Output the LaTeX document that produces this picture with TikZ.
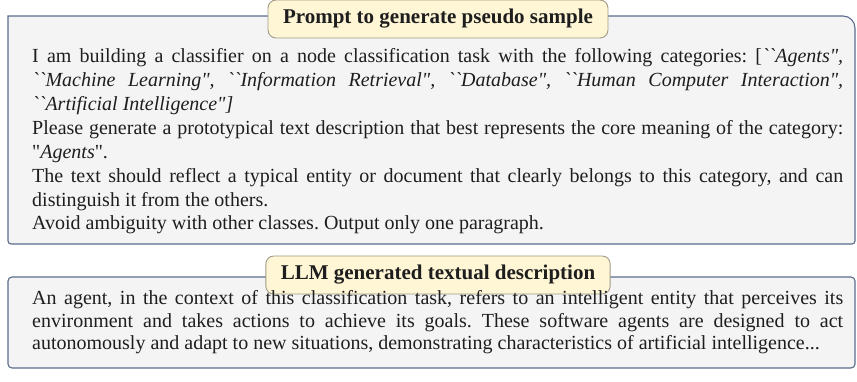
\documentclass[tikz,border=0pt]{standalone}
\usepackage{fontspec}
\setmainfont{Liberation Serif}[Ligatures=TeXOff]
\definecolor{framecol}{HTML}{5A6C8C}
\definecolor{bodyfill}{HTML}{F4F4F4}
\definecolor{titlefill}{HTML}{FFF6D6}
\definecolor{titledraw}{HTML}{A09A86}
\definecolor{inkcol}{HTML}{1E1E1E}

\begin{document}
\begin{tikzpicture}[x=1pt,y=-1pt,
  every node/.style={font=\fontsize{20}{23.85}\selectfont\frenchspacing,text=inkcol},
  boxframe/.style={draw=framecol,line width=1.1pt,fill=bodyfill},
  titlebox/.style={draw=titledraw,line width=0.9pt,fill=titlefill,rounded corners=8pt,
    minimum height=38pt,inner xsep=15pt,font=\fontsize{21}{24}\selectfont\bfseries},
  bodytext/.style={anchor=base west,text width=811pt,align=justify,inner sep=0pt}]
  \useasboundingbox (0,0) rectangle (857,382);
  % prompt box
  \draw[boxframe] (8,130) -- (8,16) [rounded corners=12pt] -- (855,16) [rounded corners=3pt]
    -- (855,244) -- (8,244) [rounded corners=12pt] -- cycle;
  \node[titlebox] (prompttitle) at (438,19) {Prompt to generate pseudo sample};
  \node[bodytext] (prompttext) at (32,63) {I am building a classifier on a node classification task with the following categories: [\textit{``Agents",}\linebreak
    \textit{``Machine Learning", ``Information Retrieval", ``Database", ``Human Computer Interaction",}\linebreak
    \textit{``Artificial Intelligence"]}\\
    Please generate a prototypical text description that best represents the core meaning of the category:\linebreak
    "\textit{Agents}".\\
    The text should reflect a typical entity or document that clearly belongs to this category, and can\linebreak
    distinguish it from the others.\\
    Avoid ambiguity with other classes. Output only one paragraph.};
  % llm answer box
  \draw[boxframe,rounded corners=4pt] (8,277) rectangle (855,368);
  \node[titlebox] (llmtitle) at (438,275) {LLM generated textual description};
  \node[bodytext,font=\fontsize{20}{22}\selectfont\frenchspacing] (llmtext) at (32,305) {An agent, in the context of this classification task, refers to an intelligent entity that perceives its\linebreak
    environment and takes actions to achieve its goals. These software agents are designed to act\linebreak
    autonomously and adapt to new situations, demonstrating characteristics of artificial intelligence...};
\end{tikzpicture}
\end{document}
